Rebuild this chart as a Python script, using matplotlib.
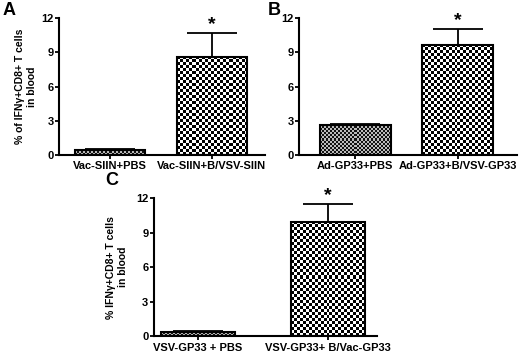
import numpy as np
import matplotlib.pyplot as plt
from matplotlib.colors import ListedColormap

plt.rcParams['font.family'] = ['Liberation Sans', 'DejaVu Sans']
plt.rcParams['font.weight'] = 'bold'

# panel A
a_labels = ['Vac-SIIN+PBS', 'Vac-SIIN+B/VSV-SIIN']
a_means = [0.45, 8.6]
a_errs = [0.1, 2.1]
# panel B
b_labels = ['Ad-GP33+PBS', 'Ad-GP33+B/VSV-GP33']
b_means = [2.65, 9.65]
b_errs = [0.1, 1.35]
# panel C
c_labels = ['VSV-GP33 + PBS', 'VSV-GP33+ B/Vac-GP33']
c_means = [0.35, 9.9]
c_errs = [0.1, 1.6]

yticks = [0, 3, 6, 9, 12]


def checker_fill(ax, rect, cell, dark, light):
    """Fill a bar with a checkerboard pattern clipped to the bar."""
    x0, y0 = rect.get_x(), rect.get_y()
    x1, y1 = x0 + rect.get_width(), y0 + rect.get_height()
    p0 = ax.transData.transform((x0, y0))
    p1 = ax.transData.transform((x1, y1))
    nx = max(1, int(round(abs(p1[0] - p0[0]) / cell)))
    ny = max(1, int(round(abs(p1[1] - p0[1]) / cell)))
    i, j = np.indices((ny, nx))
    board = (i + j) % 2
    im = ax.imshow(board, extent=(x0, x1, y0, y1),
                   cmap=ListedColormap([dark, light]),
                   interpolation='nearest', aspect='auto', zorder=2,
                   origin='lower')
    im.set_clip_path(rect)


def draw_panel(fig, pos, labels, means, errs, xlim, width, ylabel, letter,
               letter_xy, labelpad=4):
    ax = fig.add_axes(pos)
    x = np.arange(len(means))
    ax.set_xlim(*xlim)
    ax.set_ylim(0, 12)
    bars = ax.bar(x, means, width=width, facecolor='none', edgecolor='black',
                  linewidth=1.5, zorder=3)
    ax.errorbar(x, means, yerr=[[0, 0], errs], fmt='none', ecolor='black',
                elinewidth=1.3, capsize=18, capthick=1.3, zorder=1)
    checker_fill(ax, bars[0], 2.0, '#111111', '#bbbbbb')
    checker_fill(ax, bars[1], 3.0, '#000000', '#ffffff')
    ax.text(x[1], means[1] + errs[1], '*', ha='center', va='bottom',
            fontsize=14, fontweight='bold')
    ax.spines['top'].set_visible(False)
    ax.spines['right'].set_visible(False)
    ax.spines['left'].set_linewidth(1.5)
    ax.spines['bottom'].set_linewidth(1.5)
    ax.set_yticks(yticks)
    ax.set_xticks(x)
    ax.set_xticklabels(labels, fontsize=8, fontweight='bold')
    ax.tick_params(axis='y', labelsize=8, length=3, width=1.3, pad=1)
    ax.tick_params(axis='x', length=3, width=1.3, pad=1.5)
    if ylabel:
        ax.set_ylabel(ylabel, fontsize=7.5, fontweight='bold',
                      labelpad=labelpad)
    fig.text(letter_xy[0], letter_xy[1], letter, fontsize=13,
             fontweight='bold', ha='left', va='top')
    return ax


fig = plt.figure(figsize=(5.2, 3.51), dpi=100)

draw_panel(fig, [0.1135, 0.558, 0.396, 0.391], a_labels, a_means, a_errs,
           (-0.5, 1.52), 0.69, '% of IFN\u03b3+CD8+ T cells\nin blood', 'A',
           (0.005, 0.995), labelpad=3)
draw_panel(fig, [0.575, 0.558, 0.419, 0.391], b_labels, b_means, b_errs,
           (-0.55, 1.58), 0.69, None, 'B', (0.515, 0.995))
draw_panel(fig, [0.296, 0.042, 0.429, 0.394], c_labels, c_means, c_errs,
           (-0.34, 1.38), 0.57, '% IFN\u03b3+CD8+ T cells\nin blood', 'C',
           (0.203, 0.51), labelpad=6)

fig.savefig('out.png', dpi=100)
